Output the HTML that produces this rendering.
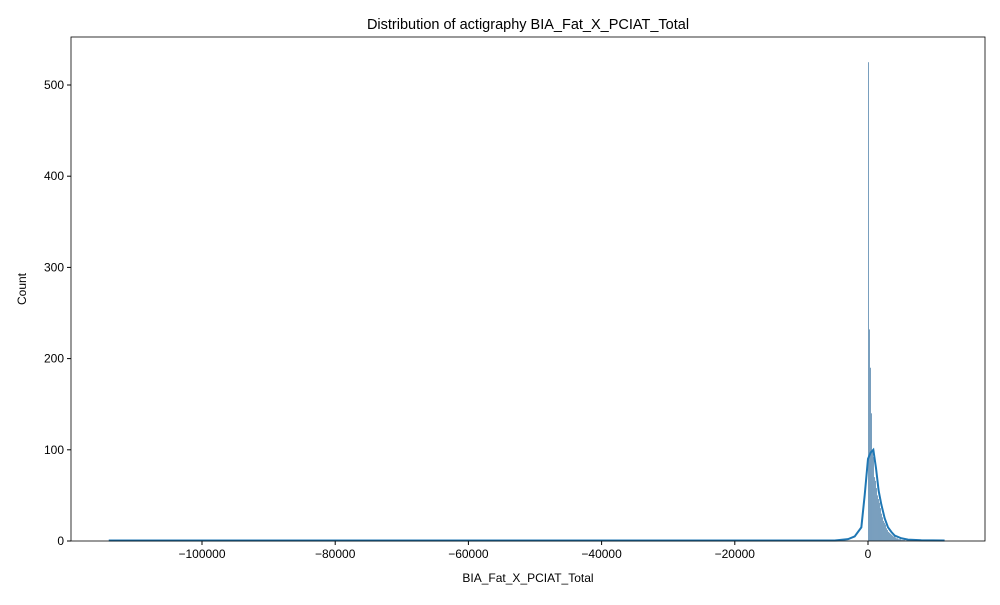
<!DOCTYPE html>
<html><head><meta charset="utf-8"><style>
body{margin:0;background:#fff;font-family:"Liberation Sans",sans-serif}
svg text{font-family:"Liberation Sans",sans-serif;fill:#000}
</style></head><body>
<svg id="c" width="1000" height="600">
<rect width="1000" height="600" fill="#fff"/>
<text x="528" y="29" font-size="14.5" text-anchor="middle">Distribution of actigraphy BIA_Fat_X_PCIAT_Total</text>
<g id="bars"></g><g id="ax"></g>
<path id="kde" fill="none" stroke="#1f77b4" stroke-width="2"/>
<rect x="71" y="37" width="914" height="504" fill="none" stroke="#000" stroke-width="0.8"/>
<text x="528" y="582" font-size="12" text-anchor="middle">BIA_Fat_X_PCIAT_Total</text>
<text transform="translate(26,289) rotate(-90)" font-size="12" text-anchor="middle">Count</text>
</svg>
<script>
const binStart=0, binWidth=150;
const counts=[525,232,190,140,100,92,70,66,58,50,46,42,36,30,26,22,20,18,14,12,10,9,8,7,6,5,5,4,3,3,2,2,2,1,1,1,1];
const kdeX=[-114000,-20000,-5000,-3000,-2000,-1000,-500,0,400,800,1200,1600,2000,2500,3000,3500,4000,5000,6000,8000,11500];
const kdeY=[0.5,0.5,0.6,2,5,15,50,90,97,100,80,55,40,25,15,10,6,3,1.5,0.8,0.5];
const xTicks=[-100000,-80000,-60000,-40000,-20000,0];
const yTicks=[0,100,200,300,400,500];
const X=v=>868+v*0.00666, Y=v=>541-v*0.912;
const ns="http://www.w3.org/2000/svg";
const bars=document.getElementById('bars'), ax=document.getElementById('ax');
counts.forEach((c,i)=>{const r=document.createElementNS(ns,'rect');
r.setAttribute('x',X(binStart+i*binWidth));r.setAttribute('width',Math.max(X(binStart+(i+1)*binWidth)-X(binStart+i*binWidth),0.8));
r.setAttribute('y',Y(c));r.setAttribute('height',Y(0)-Y(c));r.setAttribute('fill','#4c7fa8');r.setAttribute('fill-opacity','0.75');


bars.appendChild(r);});
document.getElementById('kde').setAttribute('d',kdeX.map((x,i)=>(i?'L':'M')+X(x)+','+Y(kdeY[i])).join(''));
xTicks.forEach(t=>{const l=document.createElementNS(ns,'line');l.setAttribute('x1',X(t));l.setAttribute('x2',X(t));l.setAttribute('y1',541);l.setAttribute('y2',545);l.setAttribute('stroke','#000');ax.appendChild(l);
const s=document.createElementNS(ns,'text');s.setAttribute('x',X(t));s.setAttribute('y',558);s.setAttribute('font-size','12');s.setAttribute('text-anchor','middle');s.textContent=t<0?'\u2212'+(-t):t;


ax.appendChild(s);});
yTicks.forEach(t=>{const l=document.createElementNS(ns,'line');l.setAttribute('x1',67);l.setAttribute('x2',71);l.setAttribute('y1',Y(t));l.setAttribute('y2',Y(t));l.setAttribute('stroke','#000');ax.appendChild(l);
const s=document.createElementNS(ns,'text');s.setAttribute('x',64);s.setAttribute('y',Y(t)+4);s.setAttribute('font-size','12');s.setAttribute('text-anchor','end');s.textContent=t;


ax.appendChild(s);});
</script>
</body></html>
